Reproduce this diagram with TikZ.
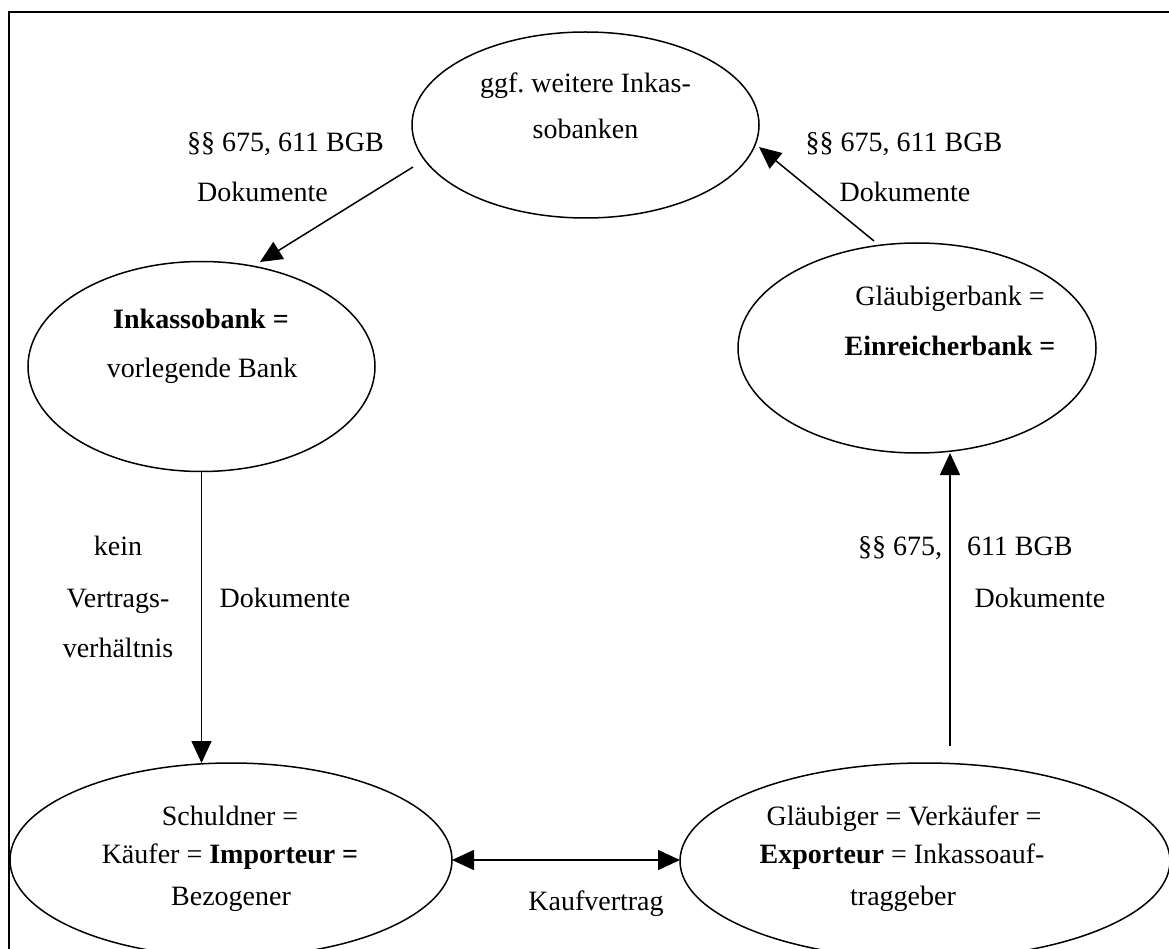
\documentclass[tikz,border=0pt]{standalone}
\usepackage{fontspec}
\setmainfont{Liberation Serif}
\usetikzlibrary{arrows.meta,shapes.geometric,calc}

\begin{document}
\frenchspacing
\begin{tikzpicture}[x=1pt,y=-1pt,
  every node/.style={font=\fontsize{28}{34}\selectfont, inner sep=0pt, outer sep=0pt},
  bubble/.style={draw, ellipse, line width=1.5pt},
  txt/.style={anchor=base},
  arr/.style={line width=1.5pt, -{Triangle[length=22pt,width=20pt]}},
  darr/.style={line width=1.5pt, {Triangle[length=22pt,width=20pt]}-{Triangle[length=22pt,width=20pt]}}]

\useasboundingbox (0,0) rectangle (1169,949);
\clip (0,0) rectangle (1169,949);

% outer frame (runs past the page on the right and bottom)
\draw[line width=1.6pt] (9,12) rectangle (1200,990);

% banks and parties
\node[bubble, minimum width=347, minimum height=186] (weitere) at (585.5,125) {};
\node[bubble, minimum width=347, minimum height=210] (ink) at (201.5,366.5) {};
\node[bubble, minimum width=358, minimum height=210] (glb) at (917,348) {};
\node[bubble, minimum width=442, minimum height=194] (schuld) at (231,860) {};
\node[bubble, minimum width=490, minimum height=196] (exp) at (925,861) {};

% texts inside the ellipses
\node[txt] (w-l1) at (585.5,93) {ggf. weitere Inkas-};
\node[txt] (w-l2) at (585.5,139) {sobanken};
\node[txt] (i-l1) at (201,328) {\textbf{Inkassobank =}};
\node[txt] (i-l2) at (202,377) {vorlegende Bank};
\node[txt] (g-l1) at (950,306) {Gläubigerbank =};
\node[txt] (g-l2) at (950,355) {\textbf{Einreicherbank =}};
\node[txt] (s-l1) at (230,825) {Schuldner =};
\node[txt] (s-l2) at (230,863) {Käufer = \textbf{Importeur =}};
\node[txt] (s-l3) at (231,905) {Bezogener};
\node[txt] (e-l1) at (904,825) {Gläubiger = Verkäufer =};
\node[txt] (e-l2) at (902,863) {\textbf{Exporteur} = Inkassoauf-};
\node[txt] (e-l3) at (903,905) {traggeber};

% connector end points
\coordinate (w-out) at ($(weitere.center)+(-172.5,42)$);
\coordinate (i-in)  at ($(ink.center)+(58.5,-104.5)$);
\coordinate (g-out) at ($(glb.center)+(-43,-107)$);
\coordinate (w-in)  at ($(weitere.center)+(173.5,22)$);
\coordinate (g-in)  at ($(glb.south)+(33,0)$);
\coordinate (e-out) at ($(exp.north)+(0,-17)$);

% connectors
\draw[arr] (w-out) -- (i-in);
\draw[arr] (g-out) -- (w-in);
\draw[arr] (ink.south) -- (ink.south |- schuld.north);
\draw[arr] (g-in |- e-out) -- (g-in);
\draw[darr] (schuld.east) -- (schuld.east -| exp.west);

% connector labels
\node[txt] (l1a) at (285.5,152) {§§ 675, 611 BGB};
\node[txt] (l1b) at (262.5,202) {Dokumente};
\node[txt] (l2a) at (904,152) {§§ 675, 611 BGB};
\node[txt] (l2b) at (905,202) {Dokumente};
\node[txt] (l3a) at (118,555) {kein};
\node[txt] (l3b) at (118,607) {Vertrags-};
\node[txt] (l3c) at (118,657) {verhältnis};
\node[txt] (l3d) at (285,607) {Dokumente};
\node[anchor=base east] (l4a) at (942,555) {§§ 675,};
\node[anchor=base west] (l4b) at (967,555) {611 BGB};
\node[txt] (l4c) at (1040,607) {Dokumente};
\node[txt] (l5) at (596,910) {Kaufvertrag};

\end{tikzpicture}
\end{document}
